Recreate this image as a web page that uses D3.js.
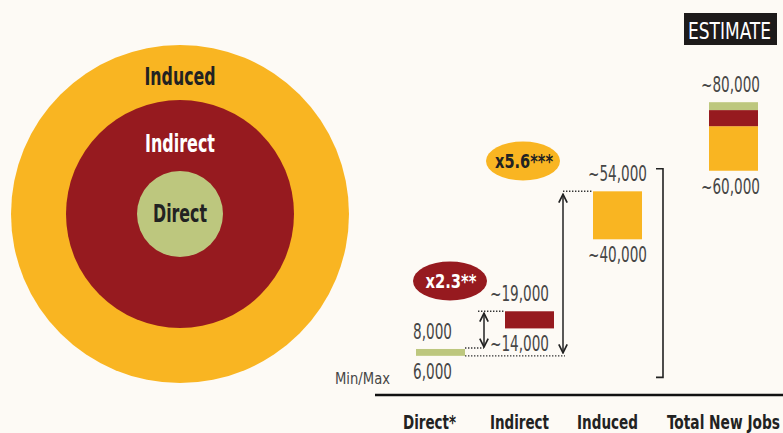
<!DOCTYPE html>
<html>
<head>
<meta charset="utf-8">
<script src="https://cdn.jsdelivr.net/npm/d3@7"></script>
<style>
  html, body { margin: 0; padding: 0; background: #fdfaf5; }
  svg { display: block; font-family: 'DejaVu Sans Condensed', 'DejaVu Sans', sans-serif; }
</style>
</head>
<body>
<div id="container"></div>
<script>
// rings (inner to outer)
const ringNames = ['Direct', 'Indirect', 'Induced'];
const ringRadii = [43, 114, 169];

// bar ranges (min / max jobs)
const categories = ['Direct*', 'Indirect', 'Induced', 'Total New Jobs'];
const minJobs = [6000, 14000, 40000, 60000];
const maxJobs = [8000, 19000, 54000, 80000];
const minLabels = ['6,000', '~14,000', '~40,000', '~60,000'];
const maxLabels = ['8,000', '~19,000', '~54,000', '~80,000'];
// stacked split of total bar: induced / indirect / direct
const totalBreaks = [60000, 73000, 77700, 80000];
const multipliers = ['x2.3**', 'x5.6***'];

const W = 783, H = 433;
const colors = {
    green: '#bdc77e',
    red: '#961a1f',
    orange: '#f9b522',
    text: '#464646',
    dark: '#222222'
};
const ringColors = [colors.green, colors.red, colors.orange];

const svg = d3.select('#container')
    .append('svg')
    .attr('width', W)
    .attr('height', H);

svg.append('rect').attr('width', W).attr('height', H).attr('fill', '#fdfaf5');

const defs = svg.append('defs');
defs.append('marker')
    .attr('id', 'arrow')
    .attr('viewBox', '0 0 10 10')
    .attr('refX', 9).attr('refY', 5)
    .attr('markerWidth', 7).attr('markerHeight', 7)
    .attr('orient', 'auto-start-reverse')
    .append('path')
    .attr('d', 'M1,1 L9,5 L1,9')
    .attr('fill', 'none')
    .attr('stroke', '#222')
    .attr('stroke-width', 1.6);

// squeeze text to the condensed widths of the original
function label(g, txt, xx, yy, size, len, opts = {}) {
    const t = g.append('text')
        .attr('x', xx).attr('y', yy)
        .attr('text-anchor', opts.anchor || 'middle')
        .style('font-size', size + 'px')
        .style('font-weight', opts.bold ? 700 : 400)
        .style('fill', opts.fill || colors.text)
        .text(txt);
    if (len) t.attr('textLength', len).attr('lengthAdjust', 'spacingAndGlyphs');
    return t;
}

// ---- concentric circles ----
const cx = 180, cy = 214;
const rings = svg.append('g');
ringRadii.slice().reverse().forEach((r, i) => {
    rings.append('circle')
        .attr('cx', cx).attr('cy', cy).attr('r', r)
        .attr('fill', ringColors[ringColors.length - 1 - i]);
});
const ringLabelBase = [222, 152, 85];
const ringLabelLen = [54, 70, 71];
ringNames.forEach((name, i) => {
    label(rings, name, cx, ringLabelBase[i], 24, ringLabelLen[i],
        { bold: true, fill: i === 1 ? '#ffffff' : colors.dark });
});

// ---- bar chart ----
const y = d3.scaleLinear().domain([0, 80000]).range([376.4, 102.2]);
const x = d3.scaleOrdinal().domain(categories).range([416, 505, 593, 709]);
const barW = 49;
const barColors = [colors.green, colors.red, colors.orange, null];

const chart = svg.append('g');

categories.slice(0, 3).forEach((c, i) => {
    chart.append('rect')
        .attr('x', x(c))
        .attr('y', y(maxJobs[i]))
        .attr('width', barW)
        .attr('height', y(minJobs[i]) - y(maxJobs[i]))
        .attr('fill', barColors[i]);
});

// stacked total bar
const stackColors = [colors.orange, colors.red, colors.green];
for (let k = 0; k < 3; k++) {
    chart.append('rect')
        .attr('x', x(categories[3]))
        .attr('y', y(totalBreaks[k + 1]))
        .attr('width', barW)
        .attr('height', y(totalBreaks[k]) - y(totalBreaks[k + 1]))
        .attr('fill', stackColors[k]);
}

// value labels
const labelShift = [-8, -10, 0, -3];
categories.forEach((c, i) => {
    const lx = x(c) + barW / 2 + labelShift[i];
    const len = i === 0 ? 39 : 59;
    label(chart, maxLabels[i], lx, y(maxJobs[i]) - 10, 21, len);
    label(chart, minLabels[i], lx, y(minJobs[i]) + 23, 21, len);
});

label(chart, 'Min/Max', 335, 384, 15, 55, { anchor: 'start' });

// dotted guides + arrows
const dotted = (x1, x2, yy) => chart.append('line')
    .attr('x1', x1).attr('x2', x2).attr('y1', yy).attr('y2', yy)
    .attr('stroke', '#333').attr('stroke-width', 1.4)
    .attr('stroke-dasharray', '1.4,1.6');
const arrow = (xx, y1, y2) => chart.append('line')
    .attr('x1', xx).attr('x2', xx).attr('y1', y1).attr('y2', y2)
    .attr('stroke', '#222').attr('stroke-width', 1.5)
    .attr('marker-start', 'url(#arrow)')
    .attr('marker-end', 'url(#arrow)');

const a1 = x(categories[0]) + barW + 19;
dotted(x(categories[0]) + barW, a1, y(maxJobs[0]) - 1);
dotted(a1 - 6, x(categories[1]), y(maxJobs[1]));
arrow(a1, y(maxJobs[1]) + 2, y(maxJobs[0]) - 2);

const a2 = x(categories[2]) - 30;
dotted(x(categories[0]) + barW, a2 + 2, y(minJobs[0]));
dotted(a2, x(categories[2]), y(maxJobs[2]));
arrow(a2, y(maxJobs[2]) + 3, y(minJobs[0]) - 3);

// bracket for total
const bx = x(categories[3]) - 46;
chart.append('path')
    .attr('d', `M${bx - 7},${y(totalBreaks[0]) - 2} H${bx} V${y(0) + 1} H${bx - 7}`)
    .attr('fill', 'none')
    .attr('stroke', '#222')
    .attr('stroke-width', 1.6);

// multiplier ellipses
const ell = [
    { cx: 450, cy: 281, fill: colors.red, color: '#ffffff', len: 51 },
    { cx: 523, cy: 161, fill: colors.orange, color: colors.dark, len: 58 }
];
multipliers.forEach((m, i) => {
    chart.append('ellipse')
        .attr('cx', ell[i].cx).attr('cy', ell[i].cy)
        .attr('rx', 37).attr('ry', 19.5)
        .attr('fill', ell[i].fill);
    label(chart, m, ell[i].cx + 1, ell[i].cy + 7, 20, ell[i].len,
        { bold: true, fill: ell[i].color });
});

// axis baseline + category labels
chart.append('line')
    .attr('x1', 375).attr('x2', W)
    .attr('y1', 395).attr('y2', 395)
    .attr('stroke', '#111').attr('stroke-width', 2.5);

const catCenter = [429.5, 519.5, 607.5, 723.5];
const catLen = [53, 59, 61, 113];
categories.forEach((c, i) => {
    label(chart, c, catCenter[i], 429, 20, catLen[i], { bold: true, fill: colors.dark });
});

// estimate tag
chart.append('rect')
    .attr('x', 684).attr('y', 13)
    .attr('width', 93).attr('height', 32)
    .attr('fill', '#1d1a1a');
label(chart, 'ESTIMATE', 729.5, 39, 23, 83, { fill: '#ffffff' });
</script>
</body>
</html>
